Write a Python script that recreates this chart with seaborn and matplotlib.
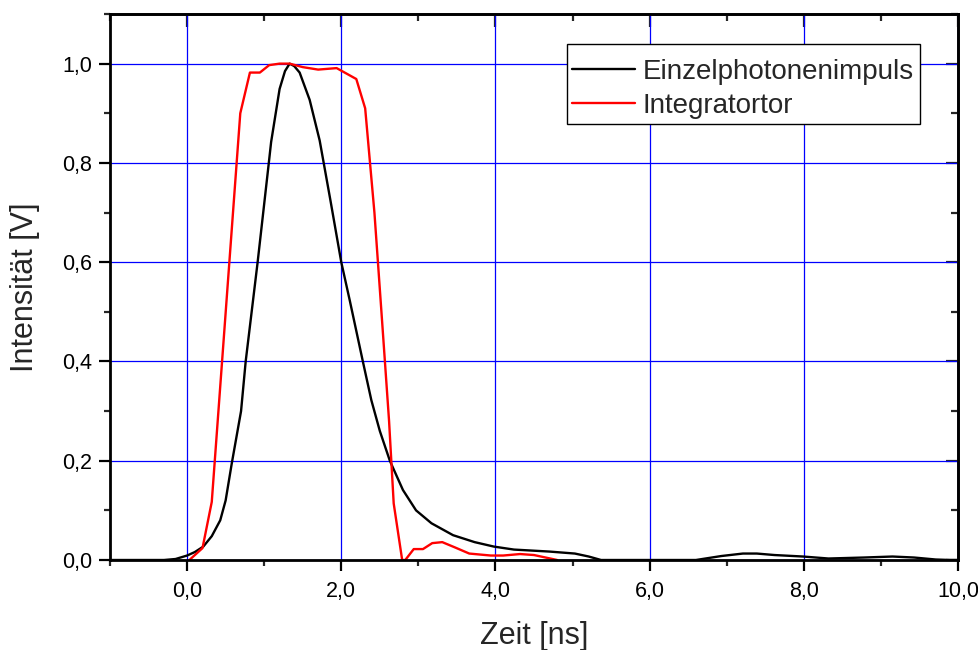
import matplotlib
matplotlib.use("Agg")
import matplotlib.pyplot as plt
from matplotlib.ticker import MultipleLocator, FuncFormatter, NullFormatter
from matplotlib.patches import Rectangle
import seaborn as sns
import pandas as pd

# Einzelphotonenimpuls (black)
puls_t = [-1.0, -0.3, -0.15, 0.0, 0.1, 0.21, 0.32, 0.43, 0.5, 0.58, 0.70, 0.76, 0.915,
          1.06, 1.09, 1.2, 1.27, 1.33, 1.39, 1.46, 1.59, 1.72, 1.86, 2.0, 2.11, 2.28,
          2.39, 2.5, 2.63, 2.80, 2.97, 3.17, 3.45, 3.73, 3.98, 4.24, 4.7, 5.03, 5.21,
          5.37, 6.6, 6.93, 7.21, 7.39, 7.62, 7.99, 8.32, 8.78, 9.15, 9.43, 9.71, 9.9, 10.0]
puls_v = [0.0, 0.0, 0.002, 0.009, 0.016, 0.027, 0.048, 0.08, 0.12, 0.195, 0.30, 0.40, 0.60,
          0.80, 0.842, 0.949, 0.985, 1.0, 0.995, 0.982, 0.927, 0.845, 0.724, 0.60, 0.523, 0.40,
          0.322, 0.26, 0.2, 0.141, 0.10, 0.074, 0.05, 0.036, 0.027, 0.021, 0.017, 0.013, 0.007,
          0.0, 0.0, 0.008, 0.013, 0.013, 0.010, 0.007, 0.003, 0.005, 0.007, 0.005, 0.001, 0.0, 0.0]

# Integratortor (red)
tor_t = [0.03, 0.2, 0.32, 0.69, 0.815, 0.944, 1.065, 1.2, 1.33, 1.5, 1.7, 1.94, 2.195,
         2.31, 2.43, 2.53, 2.62, 2.68, 2.79, 2.83, 2.94, 3.06, 3.18, 3.31, 3.48, 3.66,
         3.94, 4.1, 4.32, 4.5, 4.8]
tor_v = [0.0, 0.024, 0.117, 0.90, 0.982, 0.982, 0.997, 1.0, 1.0, 0.993, 0.988, 0.991, 0.969,
         0.91, 0.70, 0.48, 0.28, 0.114, 0.0, 0.0, 0.022, 0.022, 0.034, 0.036, 0.025, 0.013,
         0.009, 0.009, 0.012, 0.010, 0.0]

x_ticks = [0, 2, 4, 6, 8, 10]
y_ticks = [0.0, 0.2, 0.4, 0.6, 0.8, 1.0]

sns.set_style("ticks")
plt.rcParams['font.family'] = ['Liberation Sans', 'DejaVu Sans']

fig = plt.figure(figsize=(9.79, 6.5), dpi=100)
ax = fig.add_axes([110/979, 90/650, 848/979, 546/650])

df1 = pd.DataFrame({"t": puls_t, "v": puls_v})
df2 = pd.DataFrame({"t": tor_t, "v": tor_v})
sns.lineplot(data=df1, x="t", y="v", ax=ax, color="black", lw=1.7, sort=False,
             estimator=None, label="Einzelphotonenimpuls", zorder=3)
sns.lineplot(data=df2, x="t", y="v", ax=ax, color="#ff0000", lw=1.7, sort=False,
             estimator=None, label="Integratortor", zorder=4)

ax.set_xlim(-1, 10)
ax.set_ylim(0, 1.1)
ax.set_xticks(x_ticks)
ax.set_yticks(y_ticks)
ax.xaxis.set_minor_locator(MultipleLocator(1))
ax.yaxis.set_minor_locator(MultipleLocator(0.1))
fmt = FuncFormatter(lambda v, p: f"{v:.1f}".replace('.', ','))
ax.xaxis.set_major_formatter(fmt)
ax.yaxis.set_major_formatter(fmt)

ax.grid(True, which='major', color='#0000ff', lw=0.9, zorder=1)
ax.set_axisbelow(True)

for s in ax.spines.values():
    s.set_linewidth(2.0)
    s.set_color('black')
    s.set_zorder(5)

ax.tick_params(axis='both', which='major', direction='out', length=8, width=1.6,
               labelsize=15.5, colors='black', pad=5)
ax.tick_params(axis='both', which='minor', direction='out', length=4, width=1.6)
ax.tick_params(axis='x', which='both', top=False, bottom=True)
ax.tick_params(axis='y', which='both', left=True, right=False)
ax.tick_params(axis='x', which='major', pad=7)

# inward ticks on the top and right spines
top = ax.secondary_xaxis('top')
top.set_xticks(x_ticks)
top.xaxis.set_minor_locator(MultipleLocator(1))
top.xaxis.set_major_formatter(NullFormatter())
top.tick_params(which='major', direction='in', length=9, width=1.6)
top.tick_params(which='minor', direction='in', length=5, width=1.6)
top.spines['top'].set_linewidth(2.0)
right = ax.secondary_yaxis('right')
right.set_yticks(y_ticks)
right.yaxis.set_minor_locator(MultipleLocator(0.1))
right.yaxis.set_major_formatter(NullFormatter())
right.tick_params(which='major', direction='in', length=9, width=1.6)
right.tick_params(which='minor', direction='in', length=5, width=1.6)
right.spines['right'].set_linewidth(2.0)

ax.set_xlabel("Zeit [ns]", fontsize=22, labelpad=14)
ax.set_ylabel("Intensität [V]", fontsize=22, labelpad=16)

# legend box (frame drawn separately for Origin-like padding)
box = Rectangle((0.539, 0.7985), 0.416, 0.1465, transform=ax.transAxes,
                facecolor='white', edgecolor='black', lw=1.0, zorder=9)
ax.add_patch(box)
leg = ax.legend(loc='upper right', bbox_to_anchor=(0.955, 0.929), fontsize=20,
                frameon=False, borderaxespad=0,
                handlelength=2.27, handletextpad=0.28, labelspacing=0.3, borderpad=0.22)
leg.set_zorder(10)

fig.savefig("out.png", dpi=100)
